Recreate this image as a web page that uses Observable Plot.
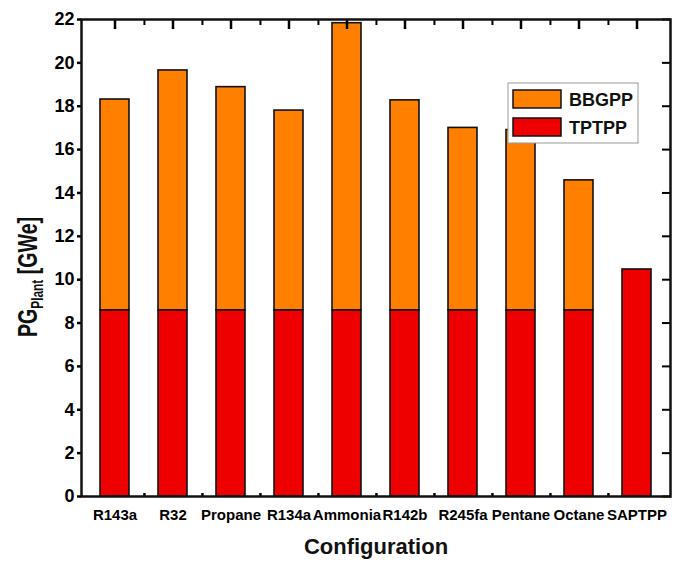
<!DOCTYPE html>
<html><head><meta charset="utf-8">
<script src="https://cdn.jsdelivr.net/npm/d3@7"></script>
<script src="https://cdn.jsdelivr.net/npm/@observablehq/plot@0.6"></script>
<style>body{margin:0;background:#fff}</style>
</head><body><div id="chart"></div>
<script>
const configurations = ["R143a","R32","Propane","R134a","Ammonia","R142b","R245fa","Pentane","Octane","SAPTPP"];
const tptpp = [8.58,8.58,8.58,8.58,8.58,8.58,8.58,8.58,8.58,10.47];
const bbgppTotal = [18.31,19.65,18.88,17.80,21.83,18.27,17.00,16.90,14.58,null];
const yTicks = [0,2,4,6,8,10,12,14,16,18,20,22];
const seriesNames = ["BBGPP","TPTPP"];
const seriesColors = ["#FF8000","#EE0000"];

const rows = configurations.map((c,i)=>({config:c, tptpp:tptpp[i], total:bbgppTotal[i]}));
const W=683, H=568, mL=81, mR=13, mT=19, mB=72;
const step = (W-mL-mR)/configurations.length;
const mids = configurations.slice(0, configurations.length-1);
const font = "'Liberation Sans', Arial, sans-serif";

const chart = Plot.plot({
  width: W, height: H,
  marginLeft: mL, marginRight: mR, marginTop: mT, marginBottom: mB,
  style: {fontFamily: font, background: "#fff", fontWeight: "bold"},
  x: {type: "band", domain: configurations, paddingInner: 0.5, paddingOuter: 0.25},
  y: {domain: [0,22]},
  marks: [
    Plot.barY(rows.filter(d=>d.total!=null), {x:"config", y1:"tptpp", y2:"total", fill: seriesColors[0], stroke:"#111", strokeWidth:1.6}),
    Plot.barY(rows, {x:"config", y1:0, y2:"tptpp", fill: seriesColors[1], stroke:"#111", strokeWidth:1.6}),
    Plot.axisY({ticks: yTicks, tickSize: 4, tickPadding: 3, fontSize: 18, fontWeight: "bold", strokeWidth: 2.5, label: null, fill: "#000"}),
    Plot.axisY({anchor: "right", ticks: yTicks, tickSize: 9, dx: -9, strokeWidth: 2, tickFormat: () => "", label: null}),
    Plot.axisX({anchor: "top", tickSize: 9, dy: 9, strokeWidth: 2.5, tickFormat: () => "", label: null}),
    Plot.axisX({anchor: "top", ticks: mids, tickSize: 5, dy: 5, dx: step/2, strokeWidth: 2, tickFormat: () => "", label: null}),
    Plot.axisX({anchor: "bottom", ticks: mids, tickSize: 3, dy: -3, dx: step/2, strokeWidth: 2.5, tickFormat: () => "", label: null}),
    Plot.axisX({anchor: "bottom", tickSize: 0, tickPadding: 13, fontSize: 15, fontWeight: "bold", label: null, fill: "#000"}),
    Plot.text(["Configuration"], {frameAnchor: "bottom", dy: 57, fontSize: 22, fontWeight: "bold", fill: "#111"}),
    Plot.frame({stroke: "#111", strokeWidth: 2.5})
  ]
});

const svg = d3.select(chart);
// y axis label with subscript
const yl = svg.append("text")
  .attr("transform", "translate(37,277) rotate(-90) scale(0.7,1)")
  .attr("text-anchor", "middle")
  .attr("font-family", font)
  .attr("font-weight", "bold").attr("font-size", 28).attr("fill", "#111");
yl.append("tspan").text("PG");
yl.append("tspan").attr("font-size", 17).attr("dy", 6).text("Plant");
yl.append("tspan").attr("dy", -6).text(" [GWe]");

// legend
const lg = svg.append("g").attr("font-family", font).attr("text-anchor", "start");
lg.append("rect").attr("x", 508).attr("y", 83).attr("width", 130).attr("height", 60)
  .attr("fill", "#fff").attr("stroke", "#999").attr("stroke-width", 1);
seriesNames.forEach((name, i) => {
  const y0 = 90 + i*28;
  lg.append("rect").attr("x", 513).attr("y", y0).attr("width", 48).attr("height", 18)
    .attr("fill", seriesColors[i]).attr("stroke", "#111").attr("stroke-width", 1.5);
  lg.append("text").attr("x", 569).attr("y", y0 + 16).attr("font-size", 18).attr("font-weight", "bold")
    .attr("text-anchor", "start").attr("fill", "#111").text(name);
});

document.getElementById("chart").appendChild(chart);
</script>
</body></html>
